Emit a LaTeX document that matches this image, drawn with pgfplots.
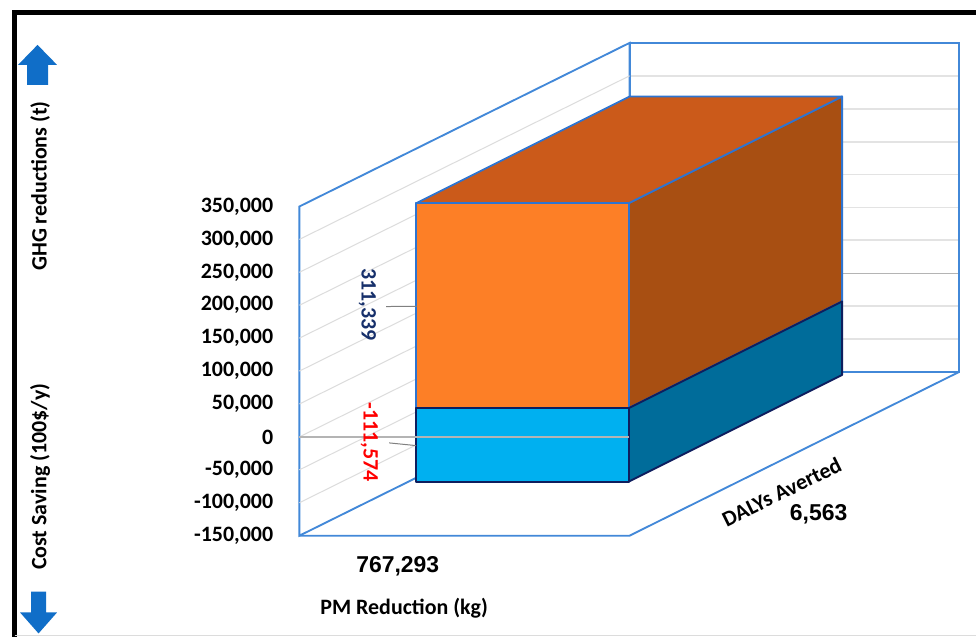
\documentclass[border=0pt]{standalone}
\usepackage{pgfplots}
\pgfplotsset{compat=1.18}
\usepackage{fontspec}
\setmainfont{Carlito}
\newfontfamily\arialb{Liberation Sans}
\definecolor{wallblue}{RGB}{66,136,216}
\definecolor{edgeblue}{RGB}{46,116,208}
\definecolor{navyedge}{RGB}{14,30,94}
\definecolor{ofront}{RGB}{253,127,38}
\definecolor{otop}{RGB}{203,90,26}
\definecolor{oside}{RGB}{168,79,18}
\definecolor{bfront}{RGB}{0,176,240}
\definecolor{bside}{RGB}{0,108,154}
\definecolor{gridg}{RGB}{220,220,220}
\definecolor{zerog}{RGB}{180,180,180}
\definecolor{arrowblue}{RGB}{16,110,200}
\definecolor{lblnavy}{RGB}{23,48,107}
\begin{document}
\begin{tikzpicture}
\begin{axis}[
  scale only axis,
  width=733.5pt, height=479.25pt,
  xmin=0, xmax=978,
  ymin=-304545.45, ymax=663636.36,
  clip=false,
  axis line style={draw=none},
  major tick length=0pt,
  xtick=\empty,
  scaled y ticks=false,
  ytick={-150000,-100000,-50000,0,50000,100000,150000,200000,250000,300000,350000},
  /pgf/number format/.cd, fixed, precision=0, 1000 sep={,}, assume math mode=true,
  /pgfplots/.cd,
  yticklabel style={anchor=east, inner sep=0pt, xshift=205.5pt,
    font=\fontsize{16.5}{18}\selectfont\bfseries},
]
% frame
\addplot[draw=black, line width=3.4pt] coordinates {(12,644697) (978,644697)};
\addplot[draw=black, line width=3.4pt] coordinates {(14.5,648106) (14.5,-304545)};
\addplot[draw=gridg, line width=1pt] coordinates {(14.5,-301515) (978,-301515)};
% walls
\addplot[draw=wallblue, fill=white, line width=1.4pt] coordinates {(300,-150000) (300,350000) (631,598485) (631,98485)} -- cycle;
\addplot[draw=wallblue, fill=white, line width=1.4pt] coordinates {(631,98485) (961,98485) (961,598485) (631,598485)} -- cycle;
% gridlines
\addplot[draw=gridg, line width=0.75pt, unbounded coords=jump] coordinates {
 (300,-100000) (631,148485) (631,nan)
 (300,-50000) (631,198485) (631,nan)
 (300,0) (631,248485) (631,nan)
 (300,50000) (631,298485) (631,nan)
 (300,100000) (631,348485) (631,nan)
 (300,150000) (631,398485) (631,nan)
 (300,200000) (631,448485) (631,nan)
 (300,250000) (631,498485) (631,nan)
 (300,300000) (631,548485)};
\addplot[draw=gridg!80!white, line width=1.4pt, unbounded coords=jump] coordinates {
 (632,148485) (960,148485) (960,nan)
 (632,198485) (960,198485) (960,nan)
 (632,298485) (960,298485) (960,nan)
 (632,348485) (960,348485) (960,nan)
 (632,398485) (960,398485) (960,nan)
 (632,448485) (960,448485) (960,nan)
 (632,498485) (960,498485) (960,nan)
 (632,548485) (960,548485)};
\addplot[draw=zerog, line width=1pt] coordinates {(632,248485) (960,248485)};
% floor
\addplot[draw=wallblue, line width=1.4pt] coordinates {(300,-150000) (631,-150000) (961,98485)};
% bar: orange segment (GHG reductions 311,339)
\addplot[draw=edgeblue, fill=oside, line width=1.4pt, line join=round] coordinates {(630,43574) (844,205695) (844,517034) (630,354913)} -- cycle;
\addplot[draw=edgeblue, fill=otop, line width=1.4pt, line join=round] coordinates {(417,354913) (630,354913) (844,517034) (631,517034)} -- cycle;
\addplot[draw=edgeblue, fill=ofront, line width=1.4pt, line join=round] coordinates {(417,43574) (630,43574) (630,354913) (417,354913)} -- cycle;
% bar: blue segment (cost saving -111,574)
\addplot[draw=navyedge, fill=bside, line width=1.4pt, line join=round] coordinates {(630,-68000) (844,94121) (844,205695) (630,43574)} -- cycle;
\addplot[draw=navyedge, fill=bfront, line width=1.4pt, line join=round] coordinates {(417,-68000) (630,-68000) (630,43574) (417,43574)} -- cycle;
% zero line across front
\addplot[draw=zerog, line width=0.9pt] coordinates {(300,0) (630,0)};
% leader lines
\addplot[draw=gray, line width=0.75pt] coordinates {(387,198030) (418,198485)};
\addplot[draw=gray, line width=0.75pt] coordinates {(390,-9091) (417,-13182)};
% arrows
\addplot[draw=none, fill=arrowblue] coordinates {(37.5,595455) (18,565152) (27,565152) (27,534848) (48,534848) (48,565152) (57,565152)} -- cycle;
\addplot[draw=none, fill=arrowblue] coordinates {(31,-234848) (46,-234848) (46,-266667) (57,-266667) (38.5,-298485) (20,-266667) (31,-266667)} -- cycle;
% texts
\node[rotate=-90, text=lblnavy, font=\fontsize{16.5}{18}\selectfont\bfseries] at (axis cs:368,200758) {311,339};
\node[rotate=-90, text=red, font=\fontsize{16.5}{18}\selectfont\bfseries] at (axis cs:370,-7576) {-111,574};
\node[rotate=90, font=\fontsize{16.5}{18}\selectfont\bfseries] at (axis cs:40,381061) {GHG reductions (t)};
\node[rotate=90, font=\fontsize{16.5}{18}\selectfont\bfseries] at (axis cs:40,-60606) {Cost Saving (100\$/y)};
\node[anchor=base, inner sep=0pt, font=\arialb\fontsize{17.25}{19}\selectfont\bfseries] at (axis cs:398.6,-206061) {767,293};
\node[anchor=base, inner sep=0pt, font=\fontsize{16.5}{18}\selectfont\bfseries] at (axis cs:405,-269697) {PM Reduction (kg)};
\node[anchor=base, inner sep=0pt, font=\arialb\fontsize{17.25}{19}\selectfont\bfseries] at (axis cs:820.5,-126818) {6,563};
\node[rotate=26.3, inner sep=0pt, font=\fontsize{16.5}{18}\selectfont\bfseries] at (axis cs:783.5,-83333) {DALYs Averted};
\end{axis}
\end{tikzpicture}
\end{document}
